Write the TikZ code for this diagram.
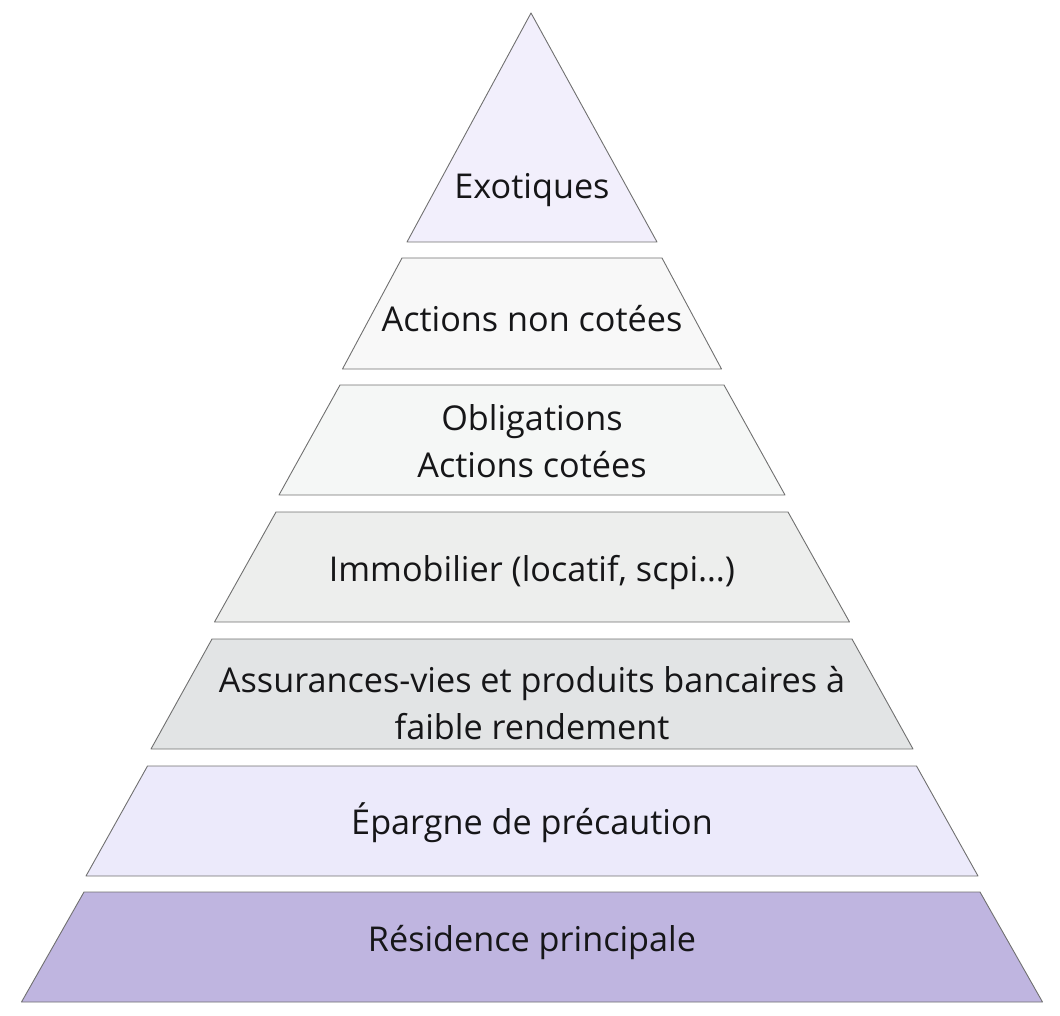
\documentclass[tikz,border=0pt]{standalone}
\usepackage{fontspec}
\setmainfont[Ligatures=NoCommon]{Open Sans}
\usetikzlibrary{positioning}
\definecolor{pyrEdge}{RGB}{112,112,112}
\definecolor{pyrText}{RGB}{22,22,24}
\definecolor{pyrLvlA}{HTML}{F2EFFC}
\definecolor{pyrLvlB}{HTML}{F8F8F8}
\definecolor{pyrLvlC}{HTML}{F5F7F6}
\definecolor{pyrLvlD}{HTML}{EDEEED}
\definecolor{pyrLvlE}{HTML}{E2E4E5}
\definecolor{pyrLvlF}{HTML}{ECEAFB}
\definecolor{pyrLvlG}{HTML}{BFB5E0}

\begin{document}
\begin{tikzpicture}[
  x=1pt, y=-1pt,
  font=\fontsize{34.2}{47}\selectfont,
  layer/.style={draw=pyrEdge, line width=0.9pt, line join=round},
  lbl/.style={align=center, text=pyrText, inner sep=0pt},
]
\useasboundingbox (0,0) rectangle (1060,1016);
% top
\draw[layer, fill=pyrLvlA] (531,13) -- (657,242) -- (407,242) -- cycle;
% stacked layers: top y / bottom y / top half width / bottom half width / fill
\foreach \yt/\yb/\wt/\wb/\col in {258/369/130/189.5/pyrLvlB, 385/495/192/253/pyrLvlC,
    512/622/256/317.5/pyrLvlD, 639/749/320/381/pyrLvlE,
    766/876/384.5/446/pyrLvlF, 892/1002/448/510.5/pyrLvlG}
  \draw[layer, fill=\col] (532-\wt,\yt) -- (532+\wt,\yt) -- (532+\wb,\yb) -- (532-\wb,\yb) -- cycle;
% labels
\node[lbl] (exo) at (532,190) {Exotiques};
\node[lbl] (nco) at (532,319) {Actions non cotées};
\node[lbl] (obl) at (532,441) {Obligations\\Actions cotées};
\node[lbl] (imm) at (532,573) {Immobilier (locatif, scpi…)};
\node[lbl] (ass) at (532,703) {Assurances-vies et produits bancaires à\\faible rendement};
\node[lbl] (epa) at (532,823) {Épargne de précaution};
\node[lbl] (res) at (532,942) {Résidence principale};
\end{tikzpicture}
\end{document}
